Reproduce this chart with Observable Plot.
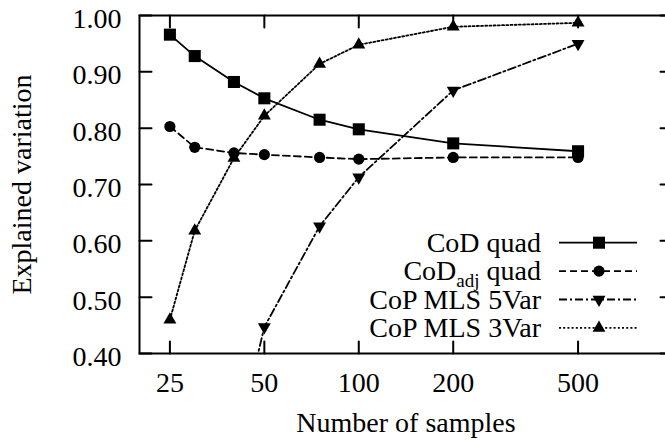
<!DOCTYPE html>
<html><head><meta charset="utf-8">
<script src="https://cdn.jsdelivr.net/npm/d3@7"></script>
<script src="https://cdn.jsdelivr.net/npm/@observablehq/plot@0.6"></script>
<style>
html,body{margin:0;padding:0;background:#fff;overflow:hidden;}
#chart{width:665px;height:441px;overflow:hidden;}
#chart svg{max-width:none !important;}
</style></head><body><div id="chart"></div>
<script>
// ---- data ----
const samples = [25, 30, 40, 50, 75, 100, 200, 500];
const codQuad = [0.966, 0.928, 0.882, 0.853, 0.815, 0.798, 0.773, 0.759];
const codAdjQuad = [0.803, 0.766, 0.756, 0.753, 0.748, 0.745, 0.748, 0.748];
const mls5Samples = [40, 50, 75, 100, 200, 500];
const copMls5Var = [0.22, 0.447, 0.626, 0.713, 0.867, 0.950];
const copMls3Var = [0.460, 0.618, 0.747, 0.822, 0.914, 0.948, 0.980, 0.987];
const xTicks = [25, 50, 100, 200, 500];
const yTicks = [0.4, 0.5, 0.6, 0.7, 0.8, 0.9, 1.0];
const seriesNames = ["CoD quad", "CoD_adj quad", "CoP MLS 5Var", "CoP MLS 3Var"];
const xLabel = "Number of samples";
const yLabel = "Explained variation";

// ---- styling ----
const font = "Liberation Serif";
const fs = 28;
const lw = 1.8;
const series = [
  {name: seriesNames[0], xs: samples, ys: codQuad, dash: null, symbol: "square", r: 6.8, rotate: 0, clip: false},
  {name: seriesNames[1], xs: samples, ys: codAdjQuad, dash: "7,4", symbol: "circle", r: 5.6, rotate: 0, clip: false},
  {name: seriesNames[2], xs: mls5Samples, ys: copMls5Var, dash: "8,3,2,3", symbol: "triangle", r: 4.8, rotate: 180, clip: true},
  {name: seriesNames[3], xs: samples, ys: copMls3Var, dash: "2,2.2", symbol: "triangle", r: 4.8, rotate: 0, clip: false}
];

const tickShape = {draw(ctx, l) { ctx.moveTo(0, 0); ctx.lineTo(0, -l); }};
const tickOpts = {length: 12, anchor: "start", shape: tickShape, stroke: "black", strokeWidth: 2};
const textOpts = {fontFamily: font, fontSize: fs, fill: "black", lineAnchor: "middle"};

const marks = [];
for (const s of series) {
  const rows = s.xs.map((x, i) => ({x, y: s.ys[i]}));
  marks.push(Plot.line(rows, {x: "x", y: "y", stroke: "black", strokeWidth: lw,
    strokeDasharray: s.dash, clip: s.clip}));
  marks.push(Plot.dot(rows, {x: "x", y: "y", symbol: s.symbol, r: s.r, fill: "black",
    stroke: "none", rotate: s.rotate, clip: s.clip}));
}

const plot = Plot.plot({
  width: 680,
  height: 441,
  marginLeft: 139,
  marginRight: 8,
  marginTop: 15,
  marginBottom: 88,
  style: {fontFamily: font, fontSize: fs + "px", background: "white", color: "black", maxWidth: "none"},
  x: {type: "log", domain: [20, 1000], axis: null},
  y: {domain: [0.4, 1.0], axis: null},
  marks: [
    ...marks,
    Plot.frame({stroke: "black", strokeWidth: 2}),
    Plot.vector(xTicks, {x: d => d, frameAnchor: "bottom", rotate: 0, ...tickOpts}),
    Plot.vector(xTicks, {x: d => d, frameAnchor: "top", rotate: 180, ...tickOpts}),
    Plot.vector(yTicks, {y: d => d, frameAnchor: "left", rotate: 90, ...tickOpts}),
    Plot.vector(yTicks, {y: d => d, frameAnchor: "right", rotate: -90, ...tickOpts}),
    Plot.text(xTicks, {x: d => d, frameAnchor: "bottom", dy: 30, textAnchor: "middle",
      text: d => String(d), ...textOpts}),
    Plot.text(yTicks, {y: d => d, frameAnchor: "left", dx: -18, dy: 3.4, textAnchor: "end",
      text: d => d3.format(".2f")(d), ...textOpts}),
    Plot.text([xLabel], {frameAnchor: "bottom", dy: 70, textAnchor: "middle", text: d => d, ...textOpts}),
    Plot.text([yLabel], {frameAnchor: "left", dx: -117, rotate: -90, textAnchor: "middle",
      text: d => d, ...textOpts})
  ]
});

// ---- legend (inside the plot, right side) ----
const svg = d3.select(plot);
const lg = svg.append("g").attr("font-family", font).attr("font-size", fs).attr("fill", "black");
const textRight = 541, lineX1 = 559, lineX2 = 637, markX = 599, base0 = 251.7, rowGap = 28.4;
series.forEach((s, i) => {
  const base = base0 + i * rowGap;
  const t = lg.append("text").attr("x", textRight).attr("y", base).attr("text-anchor", "end");
  if (s.name.includes("_")) {
    const [main, rest] = s.name.split("_");
    const [sub, ...tail] = rest.split(" ");
    t.append("tspan").text(main);
    t.append("tspan").attr("font-size", 19).attr("dy", 6.5).text(sub);
    t.append("tspan").attr("dy", -6.5).text(" " + tail.join(" "));
  } else {
    t.text(s.name);
  }
  const ly = base - 9;
  lg.append("line").attr("x1", lineX1).attr("x2", lineX2).attr("y1", ly).attr("y2", ly)
    .attr("stroke", "black").attr("stroke-width", lw)
    .attr("stroke-dasharray", s.dash);
  const area = Math.PI * s.r * s.r;
  const symType = {square: d3.symbolSquare, circle: d3.symbolCircle, triangle: d3.symbolTriangle}[s.symbol];
  lg.append("path").attr("d", d3.symbol(symType, area)())
    .attr("transform", `translate(${markX},${ly}) rotate(${s.rotate})`)
    .attr("fill", "black");
});

document.getElementById("chart").appendChild(plot);
</script>
</body></html>
